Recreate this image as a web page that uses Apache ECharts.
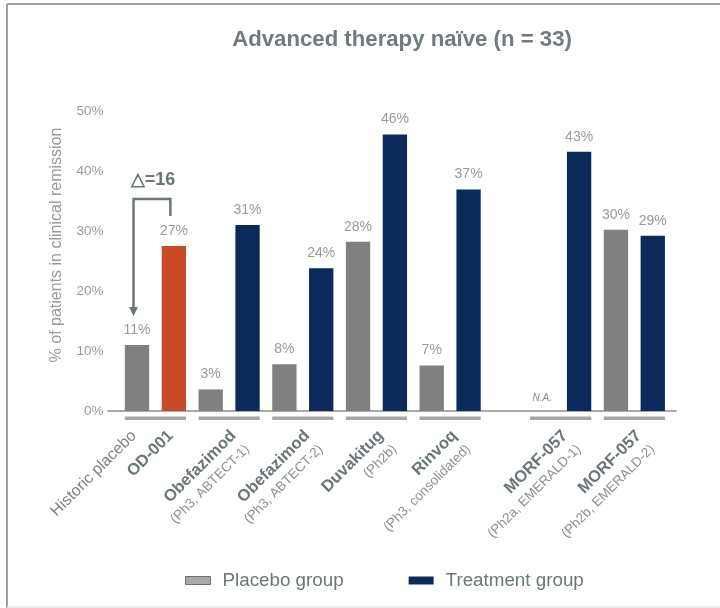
<!DOCTYPE html>
<html>
<head>
<meta charset="utf-8">
<script src="https://cdn.jsdelivr.net/npm/echarts@6/dist/echarts.min.js"></script>
<style>
  html, body { margin: 0; padding: 0; background: #fff; }
  #main { width: 720px; height: 608px; }
</style>
</head>
<body>
<div id="main"></div>
<script>
// trial labels under the axis (first pair is split: historic placebo / OD-001)
const labelNames = ['Historic placebo', 'OD-001', 'Obefazimod', 'Obefazimod', 'Duvakitug', 'Rinvoq', 'MORF-057', 'MORF-057'];
const labelNotes = ['', '', '(Ph3, ABTECT-1)', '(Ph3, ABTECT-2)', '(Ph2b)', '(Ph3, consolidated)', '(Ph2a, EMERALD-1)', '(Ph2b, EMERALD-2)'];

// one entry per trial group
const placeboValues = [11.0, 3.6, 7.8, 28.2, 7.6, 0, 30.2];
const placeboLabels = ['11%', '3%', '8%', '28%', '7%', 'N.A.', '30%'];
const treatmentValues = [27.5, 31.0, 23.8, 46.1, 36.9, 43.2, 29.2];
const treatmentLabels = ['27%', '31%', '24%', '46%', '37%', '43%', '29%'];

const yMin = 0, yMax = 50, yStep = 10;
const deltaLabel = '△=16';

const FONT = '"Liberation Sans", Arial, sans-serif';
const GREY = '#808080';
const NAVY = '#0b2a5a';
const ORANGE = '#c94a26';
const SLATE = '#6b7679';

// layout: 2 slots per group, one empty slot before the MORF-057 trials
const groupStart = placeboValues.map((v, g) => 2 * g + (g >= 5 ? 1 : 0));
const nSlots = 15;
const slotCats = [];
for (let i = 0; i < nSlots; i++) slotCats.push(String(i));

const placeboData = new Array(nSlots).fill('-');
const treatmentData = new Array(nSlots).fill('-');
groupStart.forEach((s, g) => {
    if (placeboLabels[g] === 'N.A.') {
        placeboData[s] = {
            value: placeboValues[g],
            label: { formatter: 'N.A.', fontStyle: 'italic', fontSize: 10, color: '#8c8c8c', distance: 8 }
        };
    } else {
        placeboData[s] = { value: placeboValues[g], label: { formatter: placeboLabels[g] } };
    }
    const t = { value: treatmentValues[g], label: { formatter: treatmentLabels[g] } };
    if (g === 0) t.itemStyle = { color: ORANGE };
    treatmentData[s + 1] = t;
});

// where each label sits on the (hidden) value axis, in slot units
const labelPos = {};
labelPos[Math.round((groupStart[0] + 0.6) * 10)] = 0;
labelPos[Math.round((groupStart[0] + 1.6) * 10)] = 1;
for (let g = 1; g < groupStart.length; g++) {
    labelPos[Math.round((groupStart[g] + 1.3) * 10)] = g + 1;
}

const chart = echarts.init(document.getElementById('main'));

const barLabel = {
    show: true,
    position: 'top',
    distance: 8,
    fontSize: 14,
    color: '#9a9a9a',
    fontFamily: FONT
};

chart.setOption({
    animation: false,
    textStyle: { fontFamily: FONT },
    title: {
        text: 'Advanced therapy naïve (n = 33)',
        left: 397,
        textAlign: 'center',
        top: 24,
        textStyle: { fontSize: 22.2, fontWeight: 'bold', color: '#717b7e', fontFamily: FONT }
    },
    graphic: [
        { type: 'line', shape: { x1: 7, y1: 4, x2: 720, y2: 4 }, style: { stroke: '#a0a0a0', lineWidth: 2 } },
        { type: 'line', shape: { x1: 7, y1: 4, x2: 7, y2: 608 }, style: { stroke: '#a0a0a0', lineWidth: 2 } },
        { type: 'line', shape: { x1: 7, y1: 607, x2: 720, y2: 607 }, style: { stroke: '#e8e8e8', lineWidth: 1.5 } }
    ],
    legend: {
        data: [
            { name: 'Placebo group', itemStyle: { color: '#a9a9a9', borderColor: '#6e6e6e', borderWidth: 1 } },
            { name: 'Treatment group' }
        ],
        icon: 'rect',
        left: 180,
        top: 566,
        itemWidth: 25,
        itemHeight: 8,
        itemGap: 65,
        textStyle: { fontSize: 18.8, color: SLATE, padding: [0, 0, 0, 7], fontFamily: FONT }
    },
    grid: [
        { left: 118.6, right: 48.8, top: 111, height: 300 },
        { left: 108, right: 44, top: 111, height: 300 }
    ],
    xAxis: [
        {
            type: 'category',
            gridIndex: 0,
            data: slotCats,
            axisLine: { show: false },
            axisTick: { show: false },
            axisLabel: { show: false }
        },
        {
            type: 'value',
            gridIndex: 0,
            min: 0,
            max: nSlots,
            interval: 0.1,
            position: 'bottom',
            axisLine: { show: false },
            axisTick: { show: false },
            splitLine: { show: false },
            axisLabel: {
                show: true,
                interval: 0,
                rotate: 45,
                margin: 29,
                fontFamily: FONT,
                formatter: function (v) {
                    const i = labelPos[Math.round(v * 10)];
                    if (i === undefined) return '';
                    const first = i === 0 ? '{plain|' + labelNames[i] + '}' : '{bold|' + labelNames[i] + '}';
                    return first + '\n{note|' + (labelNotes[i] || ' ') + '}';
                },
                rich: {
                    plain: { fontSize: 16, color: '#7b8487', fontFamily: FONT, lineHeight: 20 },
                    bold: { fontSize: 16.5, fontWeight: 'bold', color: SLATE, fontFamily: FONT, lineHeight: 20 },
                    note: { fontSize: 13.5, color: '#8b9194', fontFamily: FONT, lineHeight: 19 }
                }
            }
        },
        {
            type: 'value',
            gridIndex: 1,
            min: 0,
            max: 1,
            axisLine: { show: true, lineStyle: { color: '#8c8c8c', width: 1.5 } },
            axisTick: { show: false },
            axisLabel: { show: false },
            splitLine: { show: false }
        }
    ],
    yAxis: [
        {
            type: 'value',
            gridIndex: 0,
            min: yMin,
            max: yMax,
            interval: yStep,
            axisLine: { show: false },
            axisTick: { show: false },
            splitLine: { show: false },
            axisLabel: { formatter: '{value}%', fontSize: 13.5, color: '#9a9a9a', margin: 15 },
            name: '% of patients in clinical remission',
            nameLocation: 'middle',
            nameGap: 54,
            nameTextStyle: { fontSize: 16, color: '#9a9a9a', padding: [0, 0, 0, 32] }
        },
        {
            type: 'value',
            gridIndex: 1,
            min: 0,
            max: 1,
            show: false
        }
    ],
    series: [
        {
            name: 'Placebo group',
            type: 'bar',
            xAxisIndex: 0,
            yAxisIndex: 0,
            data: placeboData,
            barWidth: '66%',
            barGap: '-100%',
            itemStyle: { color: GREY },
            label: barLabel
        },
        {
            name: 'Treatment group',
            type: 'bar',
            xAxisIndex: 0,
            yAxisIndex: 0,
            data: treatmentData,
            barWidth: '66%',
            barGap: '-100%',
            itemStyle: { color: NAVY },
            label: barLabel
        },
        {
            // grey bands under each trial
            name: 'bands',
            type: 'custom',
            xAxisIndex: 0,
            yAxisIndex: 0,
            clip: false,
            silent: true,
            data: groupStart.map(s => [s, s + 1]),
            renderItem: function (params, api) {
                const p0 = api.coord([api.value(0), 0]);
                const p1 = api.coord([api.value(1), 0]);
                const bw = api.size([1, 0])[0] * 0.66;
                return {
                    type: 'rect',
                    shape: { x: p0[0] - bw / 2, y: p0[1] + 5.5, width: p1[0] - p0[0] + bw, height: 3.5 },
                    style: { fill: '#a6a6a6' }
                };
            }
        },
        {
            // delta bracket from OD-001 down to historic placebo
            name: 'delta',
            type: 'custom',
            xAxisIndex: 0,
            yAxisIndex: 0,
            clip: false,
            silent: true,
            data: [[0, 1]],
            renderItem: function (params, api) {
                const pP = api.coord([0, placeboValues[0]]);
                const pT = api.coord([1, treatmentValues[0]]);
                const xL = pP[0] - 3.5, xR = pT[0] - 3.5;
                const yTop = pT[1] - 47;
                const tip = pP[1] - 29;
                return {
                    type: 'group',
                    children: [
                        {
                            type: 'polyline',
                            shape: { points: [[xR, pT[1] - 30], [xR, yTop], [xL, yTop], [xL, tip - 8]] },
                            style: { stroke: SLATE, lineWidth: 2.5, fill: null }
                        },
                        {
                            type: 'polygon',
                            shape: { points: [[xL - 4.5, tip - 9], [xL + 4.5, tip - 9], [xL, tip]] },
                            style: { fill: SLATE }
                        },
                        {
                            type: 'text',
                            style: {
                                text: deltaLabel,
                                x: (xL + xR) / 2 + 1,
                                y: yTop - 19,
                                align: 'center',
                                verticalAlign: 'middle',
                                fontSize: 18,
                                fontWeight: 'bold',
                                fontFamily: FONT,
                                fill: SLATE
                            }
                        }
                    ]
                };
            }
        }
    ]
});
</script>
</body>
</html>
